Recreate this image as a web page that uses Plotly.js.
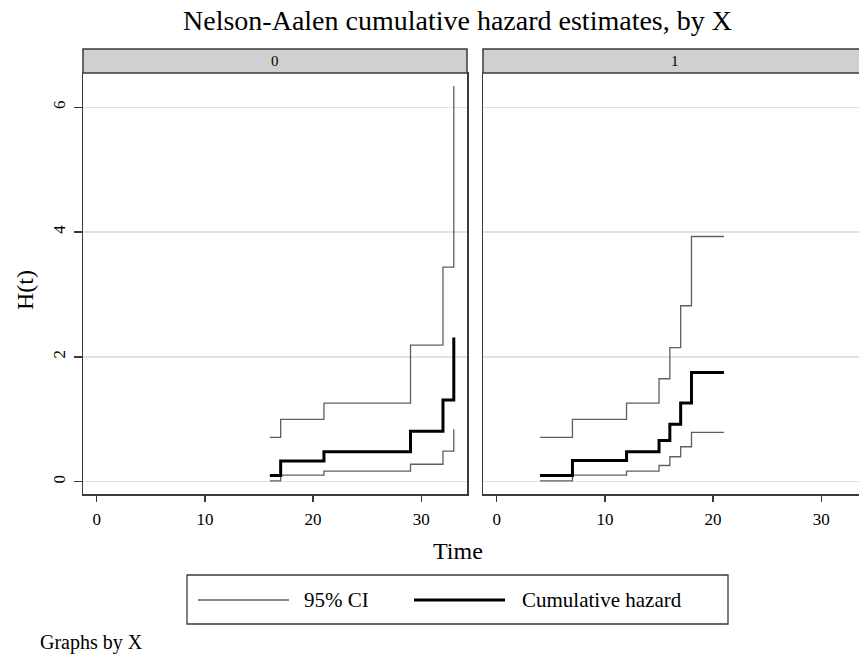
<!DOCTYPE html>
<html>
<head>
<meta charset="utf-8">
<script src="https://cdn.plot.ly/plotly-3.0.1.min.js"></script>
<style>
html,body{margin:0;padding:0;overflow:hidden;background:#fff;}
#chart{width:915px;height:658px;}
</style>
</head>
<body>
<div id="chart"></div>
<script>
// ---- data ----
const groups = ["0", "1"];
const time0  = [16, 17, 21, 29, 32, 33];
const hazard0 = [0.10, 0.33, 0.48, 0.81, 1.31, 2.31];
const upper0  = [0.71, 1.00, 1.26, 2.19, 3.44, 6.34];
const lower0  = [0.014, 0.107, 0.17, 0.28, 0.49, 0.84];

const time1  = [4, 7, 12, 15, 16, 17, 18, 21];
const hazard1 = [0.10, 0.34, 0.48, 0.66, 0.92, 1.26, 1.75, 1.75];
const upper1  = [0.71, 1.00, 1.26, 1.65, 2.15, 2.82, 3.93, 3.93];
const lower1  = [0.014, 0.107, 0.17, 0.26, 0.40, 0.56, 0.79, 0.79];

const xTicks = [0, 10, 20, 30];
const yTicks = [0, 2, 4, 6];
const legendLabels = ["95% CI", "Cumulative hazard"];

// ---- layout helpers (pixel -> paper) ----
const W = 915, H = 658;
const px = v => v / W;
const py = v => 1 - v / H;
const SERIF = "Liberation Serif, Times New Roman, serif";
const ciColor = "#5f5f5f";
const axisColor = "#3a3a3a";

function stepTrace(x, y, xa, ya, color, width) {
  return {x: x, y: y, xaxis: xa, yaxis: ya, type: "scatter", mode: "lines",
          line: {shape: "hv", color: color, width: width}, showlegend: false,
          hoverinfo: "skip"};
}

const traces = [
  stepTrace(time0, upper0, "x", "y", ciColor, 1.3),
  stepTrace(time0, lower0, "x", "y", ciColor, 1.3),
  stepTrace(time0, hazard0, "x", "y", "#000000", 3),
  stepTrace(time1, upper1, "x2", "y2", ciColor, 1.3),
  stepTrace(time1, lower1, "x2", "y2", ciColor, 1.3),
  stepTrace(time1, hazard1, "x2", "y2", "#000000", 3)
];

const xBase = {
  range: [-1.266, 34.22], tickvals: xTicks, ticks: "outside", ticklen: 6,
  tickwidth: 1.3, tickcolor: axisColor, showline: true, linecolor: axisColor,
  linewidth: 1.5, mirror: true, showgrid: false, zeroline: false,
  tickfont: {family: SERIF, size: 17, color: "#000"}, ticklabelstandoff: 3
};
const yBase = {
  range: [-0.197, 6.55], tickvals: yTicks, showline: true, linecolor: axisColor,
  linewidth: 1.5, mirror: true, showgrid: true, gridcolor: "#e2e2e2", gridwidth: 1.5,
  zeroline: false, domain: [py(494), py(73)]
};

const panelPx = [[83, 467], [483, 867]];

const layout = {
  width: W, height: H,
  margin: {l: 0, r: 0, t: 0, b: 0},
  paper_bgcolor: "#fff", plot_bgcolor: "#fff",
  title: {text: "Nelson-Aalen cumulative hazard estimates, by X",
          font: {family: SERIF, size: 28, color: "#000"},
          x: 0.5, xanchor: "center", y: py(20), yanchor: "middle", yref: "paper"},
  xaxis: Object.assign({}, xBase, {domain: [px(panelPx[0][0]), px(panelPx[0][1])], anchor: "y"}),
  xaxis2: Object.assign({}, xBase, {domain: [px(panelPx[1][0]), px(panelPx[1][1])], anchor: "y2"}),
  yaxis: Object.assign({}, yBase, {anchor: "x", ticks: "outside", ticklen: 8, tickwidth: 1.3,
          tickcolor: axisColor, tickangle: -90,
          tickfont: {family: SERIF, size: 17, color: "#000"}, ticklabelstandoff: 2}),
  yaxis2: Object.assign({}, yBase, {anchor: "x2", ticks: "", showticklabels: false}),
  shapes: [],
  annotations: []
};

// strips
groups.forEach((g, i) => {
  const [a, b] = panelPx[i];
  layout.shapes.push({type: "rect", xref: "paper", yref: "paper",
    x0: px(a), x1: px(b), y0: py(73), y1: py(49),
    fillcolor: "#d0d0d0", line: {color: axisColor, width: 1.5}, layer: "above"});
  layout.annotations.push({text: g, xref: "paper", yref: "paper",
    x: px((a + b) / 2), y: py(61), xanchor: "center", yanchor: "middle",
    showarrow: false, font: {family: SERIF, size: 15, color: "#000"}});
});

// axis titles
layout.annotations.push({text: "Time", xref: "paper", yref: "paper",
  x: px(457.5), y: py(551), xanchor: "center", yanchor: "middle", showarrow: false,
  font: {family: SERIF, size: 24, color: "#000"}});
layout.annotations.push({text: "H(t)", xref: "paper", yref: "paper",
  x: px(25), y: py(290), xanchor: "center", yanchor: "middle", showarrow: false,
  textangle: -90, font: {family: SERIF, size: 24, color: "#000"}});

// legend box
layout.shapes.push({type: "rect", xref: "paper", yref: "paper",
  x0: px(187), x1: px(728), y0: py(624), y1: py(575),
  fillcolor: "rgba(0,0,0,0)", line: {color: axisColor, width: 1.3}});
layout.shapes.push({type: "line", xref: "paper", yref: "paper",
  x0: px(198), x1: px(289), y0: py(600), y1: py(600), line: {color: ciColor, width: 1.3}});
layout.shapes.push({type: "line", xref: "paper", yref: "paper",
  x0: px(414), x1: px(505), y0: py(600), y1: py(600), line: {color: "#000", width: 3}});
layout.annotations.push({text: legendLabels[0], xref: "paper", yref: "paper",
  x: px(302), y: py(600), xanchor: "left", yanchor: "middle", showarrow: false,
  font: {family: SERIF, size: 21, color: "#000"}});
layout.annotations.push({text: legendLabels[1], xref: "paper", yref: "paper",
  x: px(520), y: py(600), xanchor: "left", yanchor: "middle", showarrow: false,
  font: {family: SERIF, size: 21, color: "#000"}});

// note
layout.annotations.push({text: "Graphs by X", xref: "paper", yref: "paper",
  x: px(38), y: py(642), xanchor: "left", yanchor: "middle", showarrow: false,
  font: {family: SERIF, size: 20, color: "#000"}});

Plotly.newPlot("chart", traces, layout, {displayModeBar: false, staticPlot: true});
</script>
</body>
</html>
